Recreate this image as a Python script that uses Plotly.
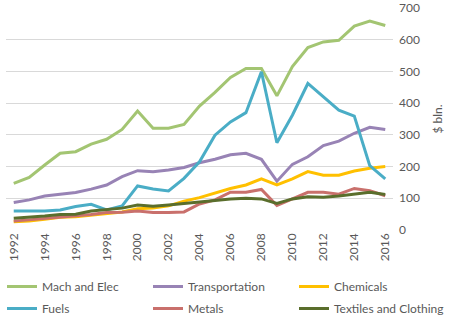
import plotly.graph_objects as go

years = [str(y) for y in range(1992, 2017)]

mach_elec = [147, 166, 205, 242, 247, 271, 286, 317, 375, 321, 321, 333, 391, 434,
             481, 509, 509, 423, 515, 575, 593, 598, 643, 659, 645]
transportation = [87, 95, 107, 113, 118, 129, 142, 168, 187, 184, 189, 197, 212, 223,
                  237, 242, 223, 154, 207, 231, 266, 280, 305, 324, 317]
chemicals = [26, 28, 34, 40, 42, 47, 51, 57, 67, 69, 76, 91, 102, 116,
             131, 142, 161, 142, 161, 184, 173, 173, 186, 195, 200]
fuels = [60, 60, 60, 63, 74, 81, 63, 76, 139, 129, 123, 163, 215, 299,
         341, 370, 499, 275, 362, 462, 420, 378, 359, 203, 161]
metals = [28, 32, 37, 42, 44, 49, 55, 56, 60, 55, 55, 57, 82, 95,
          119, 119, 128, 77, 98, 119, 119, 113, 131, 124, 108]
textiles = [37, 40, 44, 49, 50, 60, 65, 69, 79, 75, 79, 84, 90, 95,
            98, 100, 98, 84, 98, 105, 103, 107, 113, 119, 112]

# (name, values, colour, legend column)
series = [
    ("Mach and Elec", mach_elec, "#A3C572", "legend"),
    ("Transportation", transportation, "#9883B5", "legend2"),
    ("Chemicals", chemicals, "#FFC000", "legend3"),
    ("Fuels", fuels, "#4AADC6", "legend"),
    ("Metals", metals, "#C9706C", "legend2"),
    ("Textiles and Clothing", textiles, "#5A6E2C", "legend3"),
]

tick_years = years[::2]
y_ticks = list(range(0, 701, 100))

fig = go.Figure()
for name, vals, color, leg in series:
    fig.add_trace(go.Scatter(
        x=years, y=vals, name=name, mode="lines",
        legend=leg, legendgroup=name,
        line=dict(color=color, width=3),
    ))

grey = "#595959"
fam = "Lato, Liberation Sans, Arial, sans-serif"

W, H = 453, 322
ML, MR, MT, MB = 6, 60, 8, 92
plot_w = W - ML - MR
plot_h = H - MT - MB


def legend_column(x_px, top_px=272):
    return dict(
        orientation="v",
        x=(x_px - ML) / plot_w, xanchor="left",
        y=(H - MB - top_px) / plot_h, yanchor="top",
        bgcolor="rgba(0,0,0,0)", tracegroupgap=3, itemwidth=30,
        font=dict(family=fam, size=12, color=grey),
    )


fig.update_layout(
    width=W, height=H,
    margin=dict(l=ML, r=MR, t=MT, b=MB, autoexpand=False),
    plot_bgcolor="white", paper_bgcolor="white",
    font=dict(family=fam, size=12, color=grey),
    showlegend=True,
    legend=legend_column(2),
    legend2=legend_column(148),
    legend3=legend_column(294),
    xaxis=dict(
        type="category", range=[-0.5, 24.5], automargin=False,
        tickmode="array", tickvals=tick_years, ticktext=tick_years,
        tickangle=-90, showgrid=False, zeroline=False, showline=False,
        ticks="", tickfont=dict(family=fam, size=12, color=grey),
    ),
    yaxis=dict(
        side="right", range=[0, 700], tickvals=y_ticks, automargin=False,
        showgrid=True, gridcolor="#D9D9D9", gridwidth=1,
        zeroline=False, showline=False, ticks="", ticklabelstandoff=5,
        tickfont=dict(family=fam, size=12, color=grey),
        title=dict(text="$ bln.", font=dict(family=fam, size=12, color=grey), standoff=14),
    ),
)

fig.write_html("out.html")
